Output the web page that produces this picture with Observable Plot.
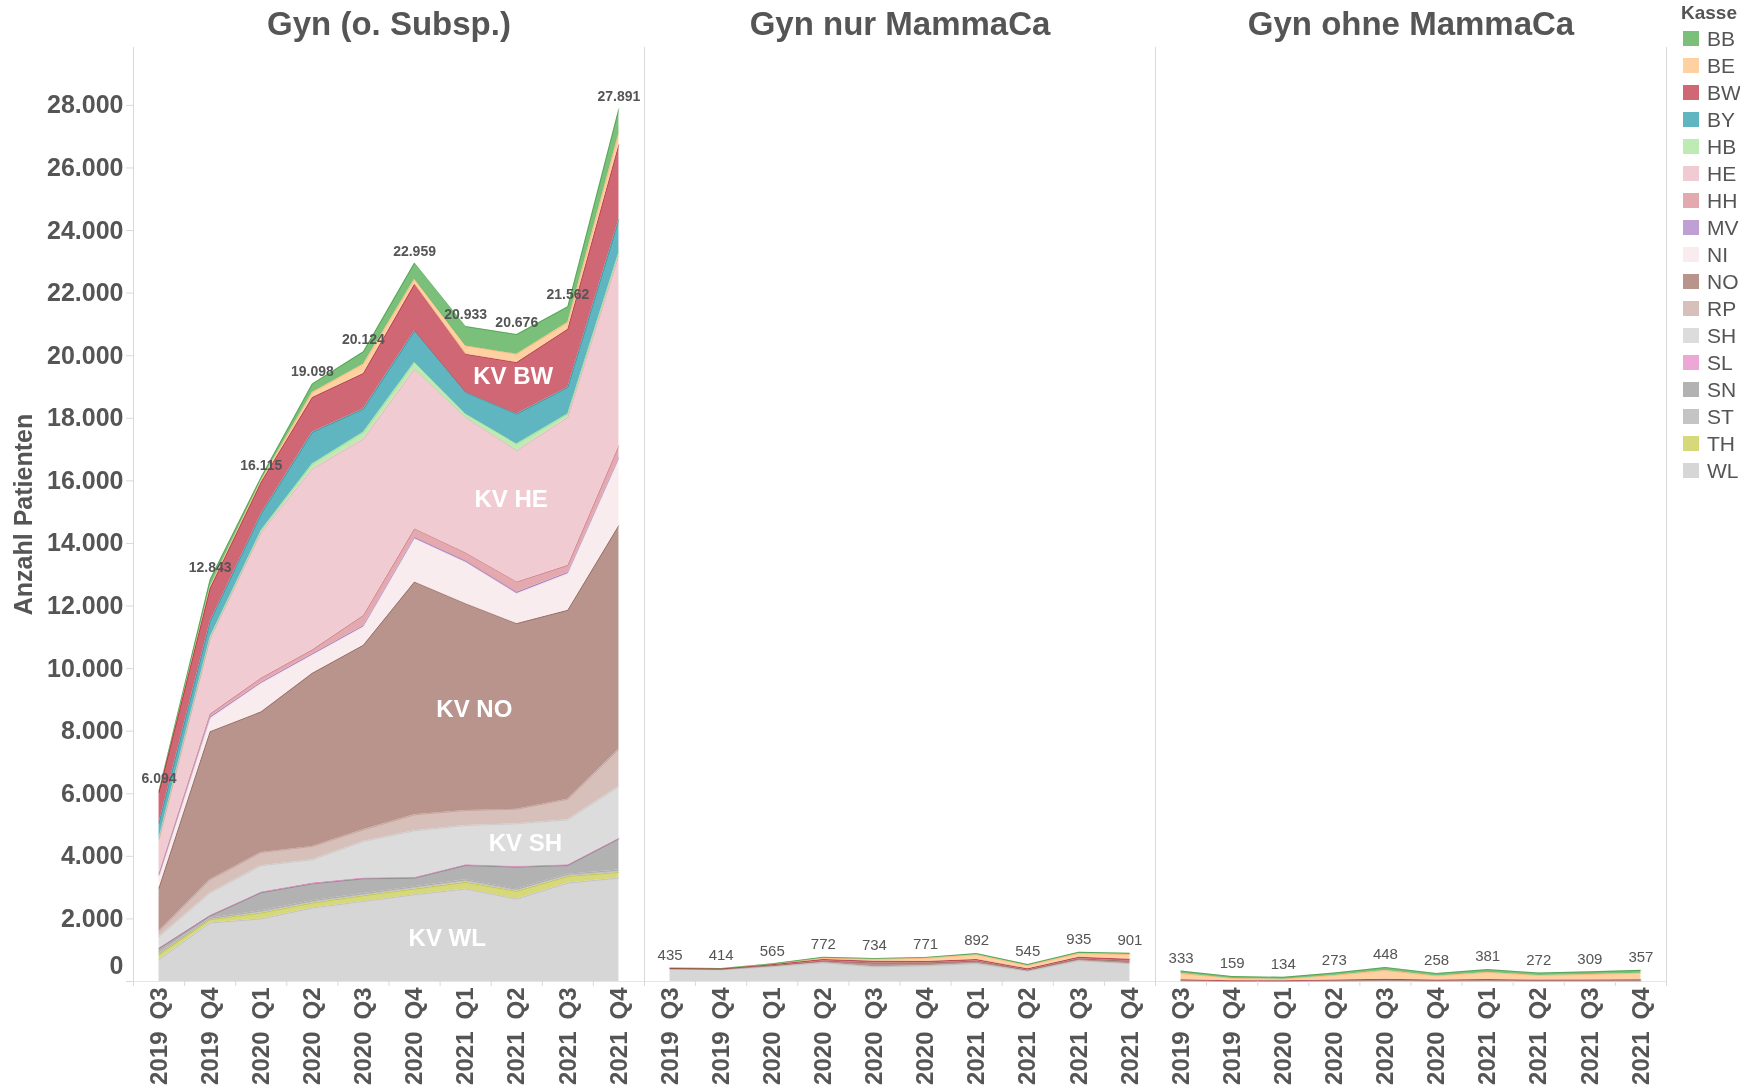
<!DOCTYPE html>
<html>
<head>
<meta charset="utf-8">
<script src="https://cdn.jsdelivr.net/npm/d3@7"></script>
<script src="https://cdn.jsdelivr.net/npm/@observablehq/plot@0.6"></script>
<style>
  html, body { margin: 0; padding: 0; background: #fff; }
  body { width: 1740px; height: 1088px; overflow: hidden; position: relative; font-family: "Liberation Sans", Arial, sans-serif; }
  #chart { position: absolute; left: 0; top: 0; }
  #legend { position: absolute; left: 1681px; top: 0; width: 59px; white-space: nowrap; color: #555; overflow: hidden; }
  #legend .lt { height: 25px; line-height: 26px; font-size: 19px; font-weight: bold; }
  #legend .li { height: 27px; display: flex; align-items: center; font-size: 21px; }
  #legend .sw { display: inline-block; width: 16px; height: 15px; margin-left: 2px; margin-right: 8px; flex: none; }
</style>
</head>
<body>
<div id="chart"></div>
<div id="legend"></div>
<script>
// ---------- data ----------
const quarters = ["2019 Q3","2019 Q4","2020 Q1","2020 Q2","2020 Q3","2020 Q4","2021 Q1","2021 Q2","2021 Q3","2021 Q4"];
const panels = ["Gyn (o. Subsp.)", "Gyn nur MammaCa", "Gyn ohne MammaCa"];
const kassen = ["BB","BE","BW","BY","HB","HE","HH","MV","NI","NO","RP","SH","SL","SN","ST","TH","WL"];
const colors = ["#7ac07a","#ffd0a0","#d06774","#60b6c0","#beeab4","#f0ccd2","#e4a8af","#bea0d4","#f8ecee","#b8948c","#d8c0ba","#dcdcdc","#eca8d4","#b2b2b2","#c4c4c4","#d6d87a","#d6d6d6"];

// rows follow the order of `kassen`, columns follow `quarters`
const valuesGyn = [
  [24,236,106,271,395,519,619,628,504,774],          // BB
  [30,50,54,160,298,160,266,266,212,372],            // BE
  [980,1057,1010,1117,1137,1488,1222,1647,1860,2392],// BW
  [480,500,531,1010,744,1010,691,957,851,1053],      // BY
  [50,50,54,160,212,212,106,212,106,100],            // HB
  [1080,2400,4660,5780,5638,5100,4329,4196,4729,6075],// HE
  [50,100,140,130,330,280,260,330,230,385],          // HH
  [40,42,35,40,40,40,40,45,38,40],                   // MV
  [373,425,905,580,583,1383,1324,957,1169,2126],     // NI
  [1382,4730,4496,5534,5900,7441,6612,5932,6038,7154],// NO
  [181,425,424,426,372,511,479,466,659,1191],        // RP
  [350,713,840,744,1169,1488,1254,1362,1435,1649],   // SH
  [24,25,25,26,26,27,26,26,26,25],                   // SL
  [150,70,575,540,470,270,455,702,275,995],          // SN
  [40,43,70,71,68,75,82,69,71,73],                   // ST
  [160,107,190,159,182,180,213,245,213,181],         // TH
  [700,1870,2000,2350,2560,2775,2955,2636,3146,3306] // WL
];
const valuesNur = [
  [15,10,20,25,25,30,40,40,40,40],                   // BB
  [5,5,10,40,60,100,150,100,120,150],                // BE
  [10,15,30,50,60,50,50,40,50,60],                   // BW
  [0,0,0,0,0,0,0,0,0,0],[0,0,0,0,0,0,0,0,0,0],[0,0,0,0,0,0,0,0,0,0],
  [0,0,0,0,0,0,0,0,0,0],[0,0,0,0,0,0,0,0,0,0],[0,0,0,0,0,0,0,0,0,0],
  [10,10,30,60,120,90,80,35,60,80],                  // NO
  [0,0,0,0,0,0,0,0,0,0],[0,0,0,0,0,0,0,0,0,0],[0,0,0,0,0,0,0,0,0,0],
  [0,0,0,0,0,0,0,0,0,0],[0,0,0,0,0,0,0,0,0,0],[0,0,0,0,0,0,0,0,0,0],
  [395,374,475,597,469,501,572,330,665,571]          // WL
];
const valuesOhne = [
  [80,60,60,80,100,80,90,80,85,90],                  // BB
  [198,74,49,148,278,133,231,147,174,212],           // BE
  [30,15,15,25,40,25,35,25,30,35],                   // BW
  [0,0,0,0,0,0,0,0,0,0],[0,0,0,0,0,0,0,0,0,0],[0,0,0,0,0,0,0,0,0,0],
  [0,0,0,0,0,0,0,0,0,0],[0,0,0,0,0,0,0,0,0,0],[0,0,0,0,0,0,0,0,0,0],
  [10,5,5,10,15,10,10,10,10,10],                     // NO
  [0,0,0,0,0,0,0,0,0,0],[0,0,0,0,0,0,0,0,0,0],[0,0,0,0,0,0,0,0,0,0],
  [0,0,0,0,0,0,0,0,0,0],[0,0,0,0,0,0,0,0,0,0],[0,0,0,0,0,0,0,0,0,0],
  [15,5,5,10,15,10,15,10,10,10]                      // WL
];
const totalsGyn  = [6094,12843,16115,19098,20124,22959,20933,20676,21562,27891];
const totalsNur  = [435,414,565,772,734,771,892,545,935,901];
const totalsOhne = [333,159,134,273,448,258,381,272,309,357];

// in-area annotations (x in quarter index units, y in patients)
const kvText = ["KV BW","KV HE","KV NO","KV SH","KV WL"];
const kvQ    = [6.93, 6.89, 6.17, 7.17, 5.64];
const kvY    = [19335, 15404, 8693, 4410, 1374];

// ---------- build tables ----------
const fmt = d3.formatLocale({decimal: ",", thousands: ".", grouping: [3], currency: ["", "€"]}).format(",d");
const panelValues = [valuesGyn, valuesNur, valuesOhne];
const panelTotals = [totalsGyn, totalsNur, totalsOhne];

const rows = [];
panels.forEach((p, pi) => {
  for (let ki = kassen.length - 1; ki >= 0; ki--) {
    const series = panelValues[pi][ki];
    if (!series.some(v => v > 0)) continue;
    series.forEach((v, qi) => rows.push({panel: p, q: qi, kasse: kassen[ki], value: v}));
  }
});
const totals = [];
panels.forEach((p, pi) => panelTotals[pi].forEach((t, qi) => totals.push({panel: p, q: qi, total: t})));
const kvLabels = kvText.map((t, i) => ({panel: panels[0], q: kvQ[i], y: kvY[i], text: t}));

const font = '"Liberation Sans", Arial, sans-serif';
const grid = "#d9d9d9";

const chart = Plot.plot({
  width: 1668,
  height: 1088,
  marginTop: 47,
  marginBottom: 107,
  marginLeft: 132,
  marginRight: 2,
  style: {fontFamily: font, color: "#555", background: "white", overflow: "visible"},
  fx: {domain: panels, padding: 0, axis: null, label: null},
  x: {domain: [-0.5, 9.5], axis: null, label: null},
  y: {domain: [0, 29850], axis: null, label: null},
  color: {domain: kassen, range: colors},
  marks: [
    Plot.frame({anchor: "left", stroke: grid}),
    Plot.ruleX([panels[2]], {fx: d => d, x: () => 9.5, stroke: grid}),
    Plot.ruleY([0], {stroke: "#e6e6e6"}),
    Plot.areaY(rows, {fx: "panel", x: "q", y: "value", z: "kasse", fill: "kasse"}),
    Plot.lineY(rows, Plot.stackY2({fx: "panel", x: "q", y: "value", z: "kasse", stroke: "kasse", strokeWidth: 1, strokeOpacity: 0.55, mixBlendMode: "multiply"})),
    Plot.axisX({ticks: d3.range(-0.5, 10, 1), tickSize: 5, tickFormat: () => "", stroke: grid, label: null}),
    Plot.axisX({ticks: d3.range(0, 10), tickSize: 0, tickPadding: 6, tickRotate: -90,
      tickFormat: i => quarters[i].replace(" ", "\u2002"), fontSize: 24, fontWeight: "bold", fill: "#555", label: null}),
    Plot.axisY({ticks: d3.range(0, 28001, 2000), tickSize: 7, tickPadding: 3,
      tickFormat: d => d === 0 ? "" : fmt(d), fontSize: 25, fontWeight: "bold", fill: "#555", stroke: grid,
      label: "Anzahl Patienten", labelAnchor: "center", labelOffset: 119, labelArrow: "none"}),
    Plot.axisY({ticks: [0], tickSize: 7, tickPadding: 3, tickFormat: fmt, dy: -16,
      fontSize: 25, fontWeight: "bold", fill: "#555", stroke: "none", label: null}),
    Plot.text(panels, {fx: d => d, text: d => d, frameAnchor: "top", dy: -36, fontSize: 33, fontWeight: "bold", fill: "#555"}),
    Plot.text(totals.filter(d => d.panel === panels[0]), {fx: "panel", x: "q", y: "total", text: d => fmt(d.total),
      dy: -12, fontSize: 14, fontWeight: "bold", fill: "#555", ariaLabel: "boxed-totals"}),
    Plot.text(totals.filter(d => d.panel !== panels[0]), {fx: "panel", x: "q", y: "total", text: d => fmt(d.total),
      dy: -13, fontSize: 15, fill: "#555"}),
    Plot.text(kvLabels, {fx: "panel", x: "q", y: "y", text: "text", fill: "white", fontSize: 24, fontWeight: "bold"})
  ]
});
document.getElementById("chart").appendChild(chart);

// light label boxes behind the totals of the first panel
chart.querySelectorAll('g[aria-label="boxed-totals"] text').forEach(t => {
  const b = t.getBBox();
  const r = document.createElementNS("http://www.w3.org/2000/svg", "rect");
  r.setAttribute("x", b.x - 3);
  r.setAttribute("y", b.y - 1);
  r.setAttribute("width", b.width + 6);
  r.setAttribute("height", b.height + 2);
  r.setAttribute("fill", "white");
  r.setAttribute("fill-opacity", "0.55");
  const tr = t.getAttribute("transform");
  if (tr) r.setAttribute("transform", tr);
  t.parentNode.insertBefore(r, t);
});

// legend
const legend = document.getElementById("legend");
legend.innerHTML = `<div class="lt">Kasse</div>` +
  kassen.map((k, i) => `<div class="li"><span class="sw" style="background:${colors[i]}"></span>${k}</div>`).join("");
</script>
</body>
</html>
